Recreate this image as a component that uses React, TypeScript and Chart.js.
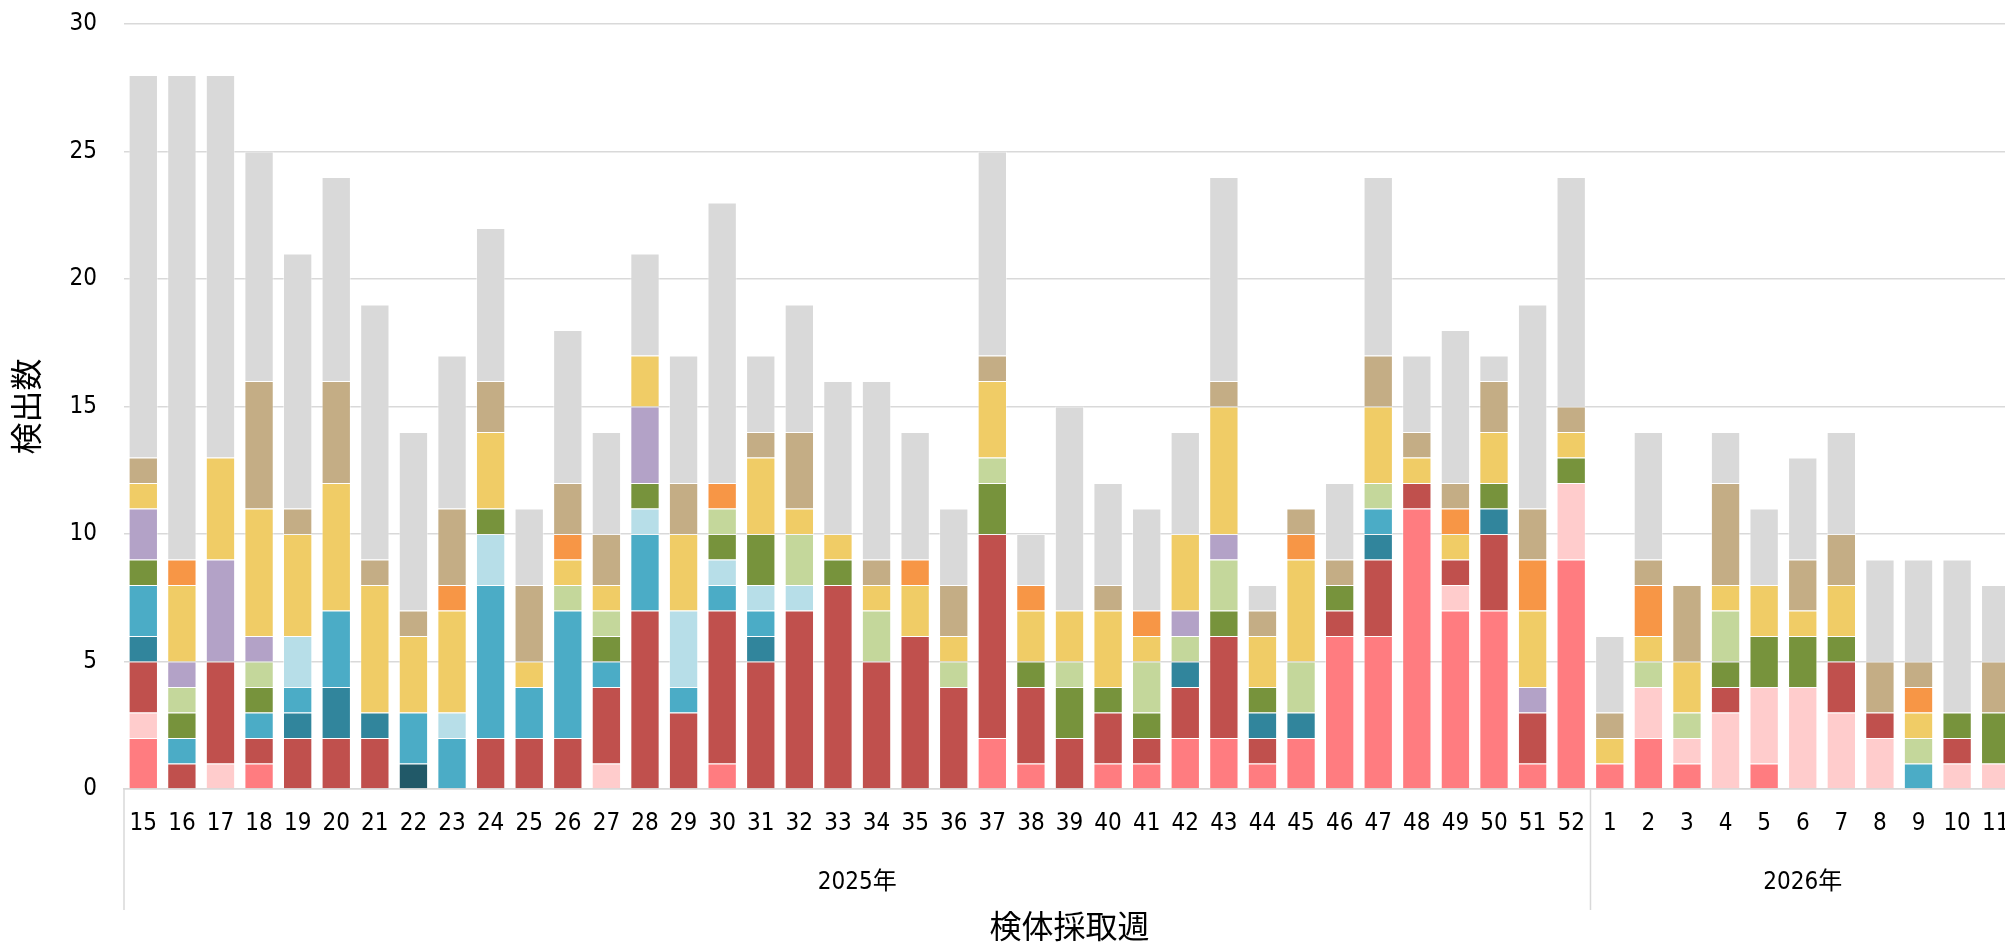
import React, { useEffect, useRef } from 'react';
import { Chart, registerables } from 'chart.js';

Chart.register(...registerables);

// ---- categories ----
const weekLabels: string[] = [
  '15', '16', '17', '18', '19', '20', '21', '22', '23', '24', '25', '26', '27', '28', '29', '30', '31', '32', '33',
  '34', '35', '36', '37', '38', '39', '40', '41', '42', '43', '44', '45', '46', '47', '48', '49', '50', '51', '52',
  '1', '2', '3', '4', '5', '6', '7', '8', '9', '10', '11',
];
const yearLabels: string[] = ['2025年', '2026年'];
const yearWeekCounts: number[] = [38, 11];

// ---- series values (bottom to top of stack) ----
const s01: number[] = [2, 0, 0, 1, 0, 0, 0, 0, 0, 0, 0, 0, 0, 0, 0, 1, 0, 0, 0, 0, 0, 0, 2, 1, 0, 1, 1, 2, 2, 1, 2, 6, 6, 11, 7, 7, 1, 9, 1, 2, 1, 0, 1, 0, 0, 0, 0, 0, 0];
const s02: number[] = [1, 0, 1, 0, 0, 0, 0, 0, 0, 0, 0, 0, 1, 0, 0, 0, 0, 0, 0, 0, 0, 0, 0, 0, 0, 0, 0, 0, 0, 0, 0, 0, 0, 0, 1, 0, 0, 3, 0, 2, 1, 3, 3, 4, 3, 2, 0, 1, 1];
const s03: number[] = [2, 1, 4, 1, 2, 2, 2, 0, 0, 2, 2, 2, 3, 7, 3, 6, 5, 7, 8, 5, 6, 4, 8, 3, 2, 2, 1, 2, 4, 1, 0, 1, 3, 1, 1, 3, 2, 0, 0, 0, 0, 1, 0, 0, 2, 1, 0, 1, 0];
const s04: number[] = [0, 0, 0, 0, 0, 0, 0, 1, 0, 0, 0, 0, 0, 0, 0, 0, 0, 0, 0, 0, 0, 0, 0, 0, 0, 0, 0, 0, 0, 0, 0, 0, 0, 0, 0, 0, 0, 0, 0, 0, 0, 0, 0, 0, 0, 0, 0, 0, 0];
const s05: number[] = [1, 0, 0, 0, 1, 2, 1, 0, 0, 0, 0, 0, 0, 0, 0, 0, 1, 0, 0, 0, 0, 0, 0, 0, 0, 0, 0, 1, 0, 1, 1, 0, 1, 0, 0, 1, 0, 0, 0, 0, 0, 0, 0, 0, 0, 0, 0, 0, 0];
const s06: number[] = [2, 1, 0, 1, 1, 3, 0, 2, 2, 6, 2, 5, 1, 3, 1, 1, 1, 0, 0, 0, 0, 0, 0, 0, 0, 0, 0, 0, 0, 0, 0, 0, 1, 0, 0, 0, 0, 0, 0, 0, 0, 0, 0, 0, 0, 0, 1, 0, 0];
const s07: number[] = [0, 0, 0, 0, 2, 0, 0, 0, 1, 2, 0, 0, 0, 1, 3, 1, 1, 1, 0, 0, 0, 0, 0, 0, 0, 0, 0, 0, 0, 0, 0, 0, 0, 0, 0, 0, 0, 0, 0, 0, 0, 0, 0, 0, 0, 0, 0, 0, 0];
const s08: number[] = [1, 1, 0, 1, 0, 0, 0, 0, 0, 1, 0, 0, 1, 1, 0, 1, 2, 0, 1, 0, 0, 0, 2, 1, 2, 1, 1, 0, 1, 1, 0, 1, 0, 0, 0, 1, 0, 1, 0, 0, 0, 1, 2, 2, 1, 0, 0, 1, 2];
const s09: number[] = [0, 1, 0, 1, 0, 0, 0, 0, 0, 0, 0, 1, 1, 0, 0, 1, 0, 2, 0, 2, 0, 1, 1, 0, 1, 0, 2, 1, 2, 0, 2, 0, 1, 0, 0, 0, 0, 0, 0, 1, 1, 2, 0, 0, 0, 0, 1, 0, 0];
const s10: number[] = [2, 1, 4, 1, 0, 0, 0, 0, 0, 0, 0, 0, 0, 3, 0, 0, 0, 0, 0, 0, 0, 0, 0, 0, 0, 0, 0, 1, 1, 0, 0, 0, 0, 0, 0, 0, 1, 0, 0, 0, 0, 0, 0, 0, 0, 0, 0, 0, 0];
const s11: number[] = [1, 3, 4, 5, 4, 5, 5, 3, 4, 3, 1, 1, 1, 2, 3, 0, 3, 1, 1, 1, 2, 1, 3, 2, 2, 3, 1, 3, 5, 2, 4, 0, 3, 1, 1, 2, 3, 1, 1, 1, 2, 1, 2, 1, 2, 0, 1, 0, 0];
const s12: number[] = [0, 1, 0, 0, 0, 0, 0, 0, 1, 0, 0, 1, 0, 0, 0, 1, 0, 0, 0, 0, 1, 0, 0, 1, 0, 0, 1, 0, 0, 0, 1, 0, 0, 0, 1, 0, 2, 0, 0, 2, 0, 0, 0, 0, 0, 0, 1, 0, 0];
const s13: number[] = [1, 0, 0, 5, 1, 4, 1, 1, 3, 2, 3, 2, 2, 0, 2, 0, 1, 3, 0, 1, 0, 2, 1, 0, 0, 1, 0, 0, 1, 1, 1, 1, 2, 1, 1, 2, 2, 1, 1, 1, 3, 4, 0, 2, 2, 2, 1, 0, 2];
const s14: number[] = [15, 19, 15, 9, 10, 8, 10, 7, 6, 6, 3, 6, 4, 4, 5, 11, 3, 5, 6, 7, 5, 3, 8, 2, 8, 4, 4, 4, 8, 1, 0, 3, 7, 3, 6, 1, 8, 9, 3, 5, 0, 2, 3, 4, 4, 4, 4, 6, 3];

const seriesNames: string[] = [
  '系統1', '系統2', '系統3', '系統4', '系統5', '系統6', '系統7',
  '系統8', '系統9', '系統10', '系統11', '系統12', '系統13', 'その他',
];
const seriesColors: string[] = [
  '#FF7C80', '#FFCCCC', '#C0504D', '#215968', '#31859C', '#4BACC6', '#B7DEE8',
  '#77933C', '#C4D79B', '#B3A2C7', '#F0CC66', '#F79646', '#C4AD85', '#D9D9D9',
];
const seriesValues: number[][] = [s01, s02, s03, s04, s05, s06, s07, s08, s09, s10, s11, s12, s13, s14];

const yTicks: number[] = [0, 5, 10, 15, 20, 25, 30];

const NUM_FONT = "'DejaVu Sans Condensed', 'DejaVu Sans', 'Noto Sans CJK JP', sans-serif";
const JP_FONT = "'Noto Sans CJK JP', sans-serif";
const LINE = '#D9D9D9';

const yearGroupPlugin = {
  id: 'yearGroups',
  afterDraw(chart: any) {
    const xs = chart.scales.x;
    const ctx = chart.ctx;
    const top = chart.chartArea.bottom;
    const lineBottom = top + 121;
    ctx.save();
    ctx.strokeStyle = LINE;
    ctx.lineWidth = 1.5;
    ctx.fillStyle = '#000000';
    ctx.font = `24px ${NUM_FONT}`;
    ctx.textAlign = 'center';
    ctx.textBaseline = 'middle';
    let start = 0;
    const n = weekLabels.length;
    yearWeekCounts.forEach((count, gi) => {
      const end = start + count - 1;
      const left = start === 0 ? xs.left : (xs.getPixelForValue(start - 1) + xs.getPixelForValue(start)) / 2;
      const right = end === n - 1 ? xs.right : (xs.getPixelForValue(end) + xs.getPixelForValue(end + 1)) / 2;
      ctx.beginPath();
      ctx.moveTo(left, top);
      ctx.lineTo(left, lineBottom);
      ctx.stroke();
      if (end === n - 1) {
        ctx.beginPath();
        ctx.moveTo(right, top);
        ctx.lineTo(right, lineBottom);
        ctx.stroke();
      }
      ctx.fillText(yearLabels[gi], (left + right) / 2, top + 94);
      start = end + 1;
    });
    ctx.restore();
  },
};

export default function App() {
  const canvasRef = useRef<HTMLCanvasElement | null>(null);

  useEffect(() => {
    const canvas = canvasRef.current;
    if (!canvas) return;
    const chart = new Chart(canvas, {
      type: 'bar',
      data: {
        labels: weekLabels,
        datasets: seriesValues.map((vals, i) => ({
          label: seriesNames[i],
          data: vals,
          backgroundColor: seriesColors[i],
          borderColor: 'rgba(255,255,255,0.45)',
          borderWidth: 1,
          barPercentage: 0.76,
          categoryPercentage: 1,
        })),
      },
      options: {
        responsive: false,
        animation: false,
        devicePixelRatio: 1,
        layout: { padding: { top: 24, right: 5, bottom: 0, left: 0 } },
        plugins: {
          legend: { display: false },
          tooltip: { enabled: false },
          title: { display: false },
        },
        scales: {
          x: {
            stacked: true,
            offset: true,
            grid: { display: false, drawTicks: false },
            border: { display: true, color: LINE, width: 1.5 },
            ticks: {
              autoSkip: false,
              maxRotation: 0,
              minRotation: 0,
              padding: 20,
              color: '#000000',
              font: { family: NUM_FONT, size: 24 },
            },
            title: {
              display: true,
              text: '検体採取週',
              color: '#000000',
              font: { family: JP_FONT, size: 32, lineHeight: 1.0 },
              padding: { top: 0, bottom: 0 },
            },
            afterFit(scale: any) {
              scale.height = 153;
              scale.paddingLeft = 0;
              scale.paddingRight = 0;
            },
          },
          y: {
            stacked: true,
            min: 0,
            max: 30,
            afterBuildTicks(scale: any) {
              scale.ticks = yTicks.map((v) => ({ value: v }));
            },
            grid: { color: LINE, lineWidth: 1.5, drawTicks: false },
            border: { display: false },
            ticks: {
              padding: 27,
              color: '#000000',
              font: { family: NUM_FONT, size: 24 },
            },
            title: {
              display: true,
              text: '検出数',
              color: '#000000',
              font: { family: JP_FONT, size: 32, lineHeight: 1.0 },
              padding: { top: 10, bottom: 0 },
            },
            afterFit(scale: any) {
              scale.width = 124;
              scale.paddingTop = 0;
              scale.paddingBottom = 0;
            },
          },
        },
      },
      plugins: [yearGroupPlugin],
    });
    return () => chart.destroy();
  }, []);

  return (
    <div style={{ position: 'fixed', left: 0, top: 0, width: 2005, height: 942, overflow: 'hidden', background: '#ffffff' }}>
      <canvas ref={canvasRef} width={2020} height={942} style={{ width: 2020, height: 942, display: 'block' }} />
    </div>
  );
}
